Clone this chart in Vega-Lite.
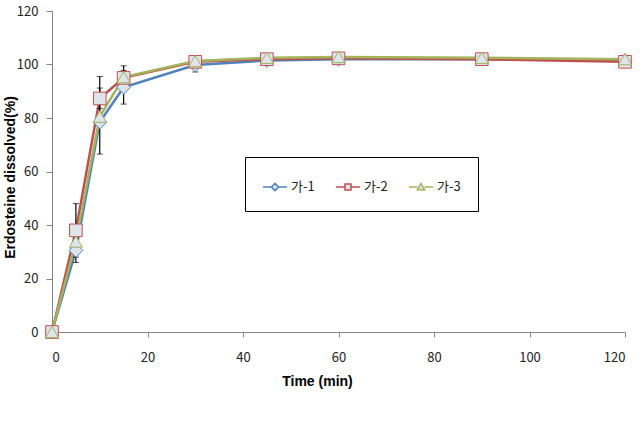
{
  "$schema": "https://vega.github.io/schema/vega-lite/v6.json",
  "autosize": "none",
  "width": 573,
  "height": 321,
  "padding": {"left": 52, "top": 11, "right": 17, "bottom": 100},
  "background": "white",
  "config": {
    "view": {"stroke": null},
    "font": "Liberation Sans"
  },
  "datasets": {
    "pts": [
      {"t": 0, "s": "가-1", "v": 0}, {"t": 5, "s": "가-1", "v": 30.5}, {"t": 10, "s": "가-1", "v": 78.5}, {"t": 15, "s": "가-1", "v": 91.5}, {"t": 30, "s": "가-1", "v": 99.8}, {"t": 45, "s": "가-1", "v": 101.5}, {"t": 60, "s": "가-1", "v": 102}, {"t": 90, "s": "가-1", "v": 102}, {"t": 120, "s": "가-1", "v": 101.5},
      {"t": 0, "s": "가-2", "v": 0}, {"t": 5, "s": "가-2", "v": 38}, {"t": 10, "s": "가-2", "v": 87.3}, {"t": 15, "s": "가-2", "v": 95}, {"t": 30, "s": "가-2", "v": 101}, {"t": 45, "s": "가-2", "v": 102}, {"t": 60, "s": "가-2", "v": 102.3}, {"t": 90, "s": "가-2", "v": 102}, {"t": 120, "s": "가-2", "v": 101},
      {"t": 0, "s": "가-3", "v": 0}, {"t": 5, "s": "가-3", "v": 33.8}, {"t": 10, "s": "가-3", "v": 80.5}, {"t": 15, "s": "가-3", "v": 95.3}, {"t": 30, "s": "가-3", "v": 101.3}, {"t": 45, "s": "가-3", "v": 102.5}, {"t": 60, "s": "가-3", "v": 102.8}, {"t": 90, "s": "가-3", "v": 102.5}, {"t": 120, "s": "가-3", "v": 102}
    ],
    "err": [
      {"t": 5, "s": "가-2", "lo": 28, "hi": 48},
      {"t": 5, "s": "가-1", "lo": 26, "hi": 35},
      {"t": 10, "s": "가-3", "lo": 66.5, "hi": 95.5},
      {"t": 10, "s": "가-2", "lo": 83.5, "hi": 91.2},
      {"t": 15, "s": "가-1", "lo": 85.2, "hi": 97.8},
      {"t": 15, "s": "가-3", "lo": 91, "hi": 99.5},
      {"t": 30, "s": "가-1", "lo": 97.2, "hi": 102.4}
    ]
  },
  "layer": [
    {
      "data": {"name": "pts"},
      "mark": {"type": "line", "strokeWidth": 2.5},
      "encoding": {
        "x": {
          "field": "t", "type": "quantitative",
          "scale": {"domain": [0, 120], "nice": false},
          "title": "Time (min)",
          "axis": {
            "values": [0, 20, 40, 60, 80, 100, 120],
            "titleFont": "Liberation Sans", "titleFontSize": 14, "titleFontWeight": "bold", "titleColor": "#000",
            "titleX": 265, "titlePadding": 10,
            "grid": false, "domainColor": "#868686", "tickColor": "#868686", "tickSize": 5,
            "labelFont": "Noto Sans CJK KR", "labelFontSize": 13, "labelColor": "#222", "labelPadding": 14
          }
        },
        "y": {
          "field": "v", "type": "quantitative",
          "scale": {"domain": [0, 120], "nice": false},
          "title": "Erdosteine dissolved(%)",
          "axis": {
            "values": [0, 20, 40, 60, 80, 100, 120],
            "titleFont": "Liberation Sans", "titleFontSize": 14, "titleFontWeight": "bold", "titleColor": "#000",
            "titleX": -42, "titleY": 166, "titleBaseline": "middle", "titleAlign": "center", "titleAngle": -90,
            "grid": false, "domainColor": "#868686", "tickColor": "#868686", "tickSize": 6,
            "labelFont": "Noto Sans CJK KR", "labelFontSize": 13, "labelColor": "#222", "labelPadding": 8
          }
        },
        "color": {
          "field": "s", "type": "nominal",
          "scale": {"domain": ["가-1", "가-2", "가-3"], "range": ["#4f81bd", "#c0504d", "#a4b35c"]},
          "legend": {
            "title": null, "orient": "none", "legendX": 193, "legendY": 146,
            "direction": "horizontal", "strokeColor": "#000", "fillColor": "white",
            "padding": 17, "columnPadding": 18, "labelFont": "Noto Sans CJK KR", "labelFontSize": 13,
            "labelColor": "#222", "symbolSize": 576, "labelOffset": 3, "symbolStrokeWidth": 1.5,
            "encode": {
              "symbols": {
                "update": {
                  "shape": {"signal": "datum.value === '가-1' ? 'M-1,0H-0.3M0.3,0H1M-0.3,0L0,-0.3L0.3,0L0,0.3Z' : datum.value === '가-2' ? 'M-1,0H-0.25M0.25,0H1M-0.25,-0.25H0.25V0.25H-0.25Z' : 'M-1,0H-0.3M0.3,0H1M-0.3,0.22L0,-0.3L0.3,0.22Z'"},
                  "fill": {"value": "#dde4ec"},
                  "fillOpacity": {"value": 1},
                  "stroke": {"signal": "scale('color', datum.value)"},
                  "strokeWidth": {"value": 1.5},
                  "opacity": {"value": 1}
                }
              }
            }
          }
        },
        "order": {"field": "t", "type": "quantitative"}
      }
    },
    {
      "data": {"name": "err"},
      "mark": {"type": "errorbar", "ticks": {"size": 6, "color": "#000"}, "rule": {"color": "#000", "strokeWidth": 1.2}},
      "encoding": {
        "x": {"field": "t", "type": "quantitative", "title": "Time (min)"},
        "y": {"field": "lo", "type": "quantitative", "title": "Erdosteine dissolved(%)"},
        "y2": {"field": "hi"}
      }
    },
    {
      "data": {"name": "pts"},
      "transform": [{"filter": "datum.s === '가-1'"}],
      "mark": {"type": "point", "shape": "diamond", "filled": false, "fill": "#dde4ec", "fillOpacity": 1, "strokeWidth": 1, "opacity": 1, "size": 190},
      "encoding": {
        "x": {"field": "t", "type": "quantitative", "title": "Time (min)"},
        "y": {"field": "v", "type": "quantitative", "title": "Erdosteine dissolved(%)"},
        "color": {"field": "s", "type": "nominal"}
      }
    },
    {
      "data": {"name": "pts"},
      "transform": [{"filter": "datum.s === '가-2'"}],
      "mark": {"type": "point", "shape": "square", "filled": false, "fill": "#dde4ec", "fillOpacity": 1, "strokeWidth": 1, "opacity": 1, "size": 160},
      "encoding": {
        "x": {"field": "t", "type": "quantitative", "title": "Time (min)"},
        "y": {"field": "v", "type": "quantitative", "title": "Erdosteine dissolved(%)"},
        "color": {"field": "s", "type": "nominal"}
      }
    },
    {
      "data": {"name": "pts"},
      "transform": [{"filter": "datum.s === '가-3'"}],
      "mark": {"type": "point", "shape": "triangle-up", "filled": false, "fill": "#dde4ec", "fillOpacity": 1, "strokeWidth": 1, "opacity": 1, "size": 170},
      "encoding": {
        "x": {"field": "t", "type": "quantitative", "title": "Time (min)"},
        "y": {"field": "v", "type": "quantitative", "title": "Erdosteine dissolved(%)"},
        "color": {"field": "s", "type": "nominal"}
      }
    }
  ]
}
